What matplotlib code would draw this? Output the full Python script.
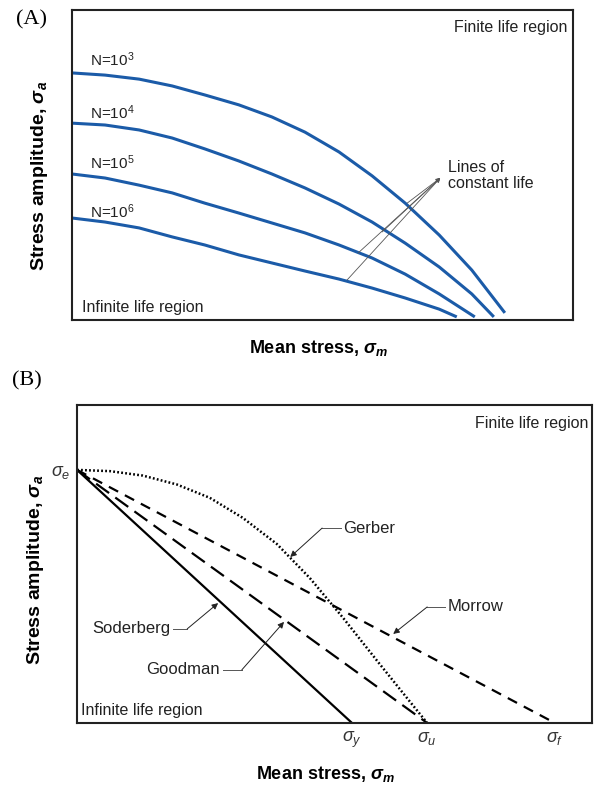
"""Diagram tegangan rata-rata vs amplitudo: garis umur konstan dan kriteria kelelahan."""

import matplotlib

matplotlib.use("Agg")
import matplotlib.pyplot as plt

plt.rcParams["font.family"] = ["Liberation Sans", "DejaVu Sans"]
plt.rcParams["mathtext.fontset"] = "custom"
plt.rcParams["mathtext.rm"] = "Liberation Sans"
plt.rcParams["mathtext.it"] = "Liberation Sans:italic"
plt.rcParams["mathtext.bf"] = "Liberation Sans:bold"
plt.rcParams["mathtext.bfit"] = "Liberation Sans:bold:italic"
plt.rcParams["lines.scale_dashes"] = False

# Panel (A): kurva umur konstan, titik (unit sumbu 0..10)
life_labels = ["N=10$^3$", "N=10$^4$", "N=10$^5$", "N=10$^6$"]
life_x = [
    [0, 0.66, 1.34, 2.0, 2.65, 3.33, 3.99, 4.65, 5.33, 5.99, 6.65, 7.33, 7.98, 8.64],
    [0, 0.66, 1.34, 2.0, 2.65, 3.33, 3.99, 4.65, 5.33, 5.99, 6.65, 7.33, 7.98, 8.42],
    [0, 0.66, 1.34, 2.0, 2.65, 3.33, 3.99, 4.65, 5.33, 5.99, 6.65, 7.33, 8.04],
    [0, 0.66, 1.34, 2.0, 2.65, 3.33, 3.99, 4.65, 5.33, 5.99, 6.65, 7.33, 7.68],
]
life_y = [
    [7.97, 7.90, 7.77, 7.55, 7.26, 6.94, 6.55, 6.06, 5.42, 4.65, 3.77, 2.74, 1.61, 0.23],
    [6.35, 6.29, 6.13, 5.87, 5.52, 5.13, 4.71, 4.26, 3.74, 3.16, 2.48, 1.71, 0.84, 0.1],
    [4.71, 4.58, 4.35, 4.10, 3.77, 3.45, 3.13, 2.81, 2.42, 2.00, 1.48, 0.84, 0.1],
    [3.29, 3.16, 2.97, 2.68, 2.42, 2.10, 1.84, 1.58, 1.32, 1.03, 0.71, 0.35, 0.1],
]
life_label_y = [8.39, 6.68, 5.06, 3.48]
# titik pada kurva yang ditunjuk oleh "Lines of constant life"
pointer_apex = (7.35, 4.58)
pointer_x = [6.69, 6.19, 5.71, 5.49]
pointer_y = [3.77, 2.84, 2.16, 1.29]

# Panel (B): kriteria tegangan rata-rata
sigma_e = 7.96
sigma_y = 5.34
sigma_u = 6.80
sigma_f = 9.28
gerber_x = [0, 0.64, 1.28, 1.94, 2.58, 3.22, 3.88, 4.52, 5.17, 5.83, 6.47, 6.80]
gerber_y = [7.96, 7.92, 7.78, 7.50, 7.08, 6.45, 5.63, 4.56, 3.30, 1.95, 0.66, 0]

# label kriteria: teks, posisi teks, titik belok, ujung panah
criteria_names = ["Soderberg", "Goodman", "Gerber", "Morrow"]
criteria_text_xy = [(1.81, 2.96), (2.78, 1.67), (5.17, 6.13), (7.20, 3.65)]
criteria_text_ha = ["right", "right", "left", "left"]
criteria_knee = [(2.14, 2.96), (3.20, 1.67), (4.76, 6.13), (6.80, 3.65)]
criteria_tip = [(2.74, 3.77), (4.02, 3.18), (4.14, 5.22), (6.14, 2.80)]

BLUE = "#1b5ba8"
TEXT = "#222222"
fig = plt.figure(figsize=(5.95, 7.86), dpi=100)

# ---------------- Panel A ----------------
ax_a = fig.add_axes([72 / 595, 1 - 320 / 786, 501 / 595, 310 / 786])
for xs, ys, label, ly in zip(life_x, life_y, life_labels, life_label_y):
    ax_a.plot(xs, ys, color=BLUE, lw=2.2, solid_capstyle="butt",
              solid_joinstyle="round")
    ax_a.text(0.36, ly, label, fontsize=11, va="center", ha="left", color=TEXT)
for px, py in zip(pointer_x, pointer_y):
    ax_a.annotate(
        "", xy=pointer_apex, xytext=(px, py),
        arrowprops=dict(arrowstyle="-|>", color="#555", lw=0.6,
                        mutation_scale=6, shrinkA=0, shrinkB=0),
    )
ax_a.text(7.5, 4.65, "Lines of\nconstant life", fontsize=11.5, va="center",
          ha="left", color=TEXT, linespacing=1.1)
ax_a.text(9.88, 9.42, "Finite life region", fontsize=11.5, ha="right",
          va="center", color=TEXT)
ax_a.text(0.2, 0.39, "Infinite life region", fontsize=11.5, ha="left",
          va="center", color=TEXT)

# ---------------- Panel B ----------------
ax_b = fig.add_axes([77 / 595, 1 - 723 / 786, 515 / 595, 318 / 786])
ax_b.plot([0, sigma_y], [sigma_e, 0], color="black", lw=1.6)
ax_b.plot([0, sigma_u], [sigma_e, 0], color="black", lw=1.6,
          dashes=(11.5, 5.5))
ax_b.plot([0, sigma_f], [sigma_e, 0], color="black", lw=1.6,
          dashes=(7.5, 5.5))
ax_b.plot(gerber_x, gerber_y, color="black", lw=1.8, dashes=(1.3, 1.6))

for name, (tx, ty), ha, knee, tip in zip(
    criteria_names, criteria_text_xy, criteria_text_ha, criteria_knee, criteria_tip
):
    ax_b.text(tx, ty, name, fontsize=12, ha=ha, va="center", color=TEXT)
    start_x = tx + 0.05 if ha == "right" else tx - 0.05
    ax_b.plot([start_x, knee[0]], [ty, knee[1]], color="#555", lw=0.7)
    ax_b.annotate(
        "", xy=tip, xytext=knee,
        arrowprops=dict(arrowstyle="-|>", color=TEXT, lw=0.7,
                        mutation_scale=9, shrinkA=0, shrinkB=0),
    )

ax_b.text(9.92, 9.43, "Finite life region", fontsize=11.5, ha="right",
          va="center", color=TEXT)
ax_b.text(0.08, 0.4, "Infinite life region", fontsize=11.5, ha="left",
          va="center", color=TEXT)

for ax in (ax_a, ax_b):
    ax.set_xlim(0, 10)
    ax.set_ylim(0, 10)
    ax.set_xticks([])
    ax.set_yticks([])
    for spine in ax.spines.values():
        spine.set_linewidth(1.5)
        spine.set_color(TEXT)

# label titik pada sumbu panel B
ax_b.set_xticks([sigma_y, sigma_u, sigma_f])
ax_b.set_xticklabels([r"$\sigma_y$", r"$\sigma_u$", r"$\sigma_f$"], fontsize=13,
                     color="#333")
ax_b.set_yticks([sigma_e])
ax_b.set_yticklabels([r"$\sigma_e$"], fontsize=13, color="#333")
ax_b.tick_params(length=0, pad=5)

# label sumbu (tebal) dan penanda panel
xlabel = r"Mean stress, $\mathbfit{\sigma_m}$"
ylabel = r"Stress amplitude, $\mathbfit{\sigma_a}$"
fig.text(318 / 595, 1 - 348 / 786, xlabel, fontsize=13, fontweight="bold",
         ha="center", va="center")
fig.text(325 / 595, 1 - 774 / 786, xlabel, fontsize=13, fontweight="bold",
         ha="center", va="center")
fig.text(40 / 595, 1 - 176 / 786, ylabel, fontsize=14, fontweight="bold",
         ha="center", va="center", rotation=90)
fig.text(36 / 595, 1 - 570 / 786, ylabel, fontsize=14, fontweight="bold",
         ha="center", va="center", rotation=90)
fig.text(16 / 595, 1 - 20 / 786, "(A)", fontsize=16, family="Liberation Serif",
         ha="left", va="center")
fig.text(12 / 595, 1 - 381 / 786, "(B)", fontsize=16, family="Liberation Serif",
         ha="left", va="center")

fig.savefig("out.png", dpi=100)
